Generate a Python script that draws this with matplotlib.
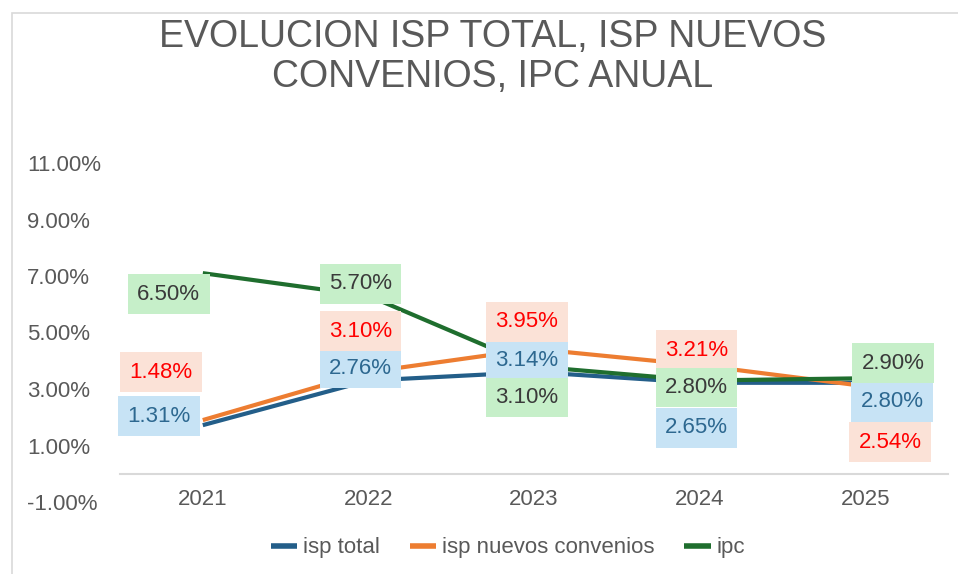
import matplotlib.pyplot as plt
from matplotlib.patches import Rectangle

plt.rcParams["font.family"] = ["Liberation Sans", "DejaVu Sans"]

# data
years = ["2021", "2022", "2023", "2024", "2025"]
isp_total = [1.72, 3.30, 3.60, 3.22, 3.22]
isp_nuevos = [1.90, 3.60, 4.42, 3.84, 3.10]
ipc = [7.10, 6.30, 3.80, 3.30, 3.38]

# data label texts as shown in the chart
isp_total_labels = ["1.31%", "2.76%", "3.14%", "2.65%", "2.80%"]
isp_nuevos_labels = ["1.48%", "3.10%", "3.95%", "3.21%", "2.54%"]
ipc_labels = ["6.50%", "5.70%", "3.10%", "2.80%", "2.90%"]

y_ticks = [-1, 1, 3, 5, 7, 9, 11]

# label offsets from their point, in pixels (x right, y up)
off_total = [(-44, 9), (-8, 12), (-7, 12), (-3, -45), (27, -19)]
off_nuevos = [(-42, 48), (-8, 41), (-7, 27), (-3, 15), (25, -56)]
off_ipc = [(-34, -21), (-8, 12), (-7, -31), (-3, -7), (28, 15)]

W, H = 958, 574
fig = plt.figure(figsize=(W / 100, H / 100), dpi=100)
ax = fig.add_axes([120 / W, 1 - 502 / H, 828 / W, 339 / H])

# chart border (only left and top edges visible)
fig.patches.append(Rectangle((12 / W, -0.1), 1.2, 1 - 13 / H + 0.1,
                             transform=fig.transFigure, fill=False,
                             edgecolor="#D9D9D9", lw=1.2))

x = list(range(len(years)))
series = [
    ("isp total", isp_total, isp_total_labels, off_total, "#235E89", "#C7E3F5", "#2D6890"),
    ("isp nuevos convenios", isp_nuevos, isp_nuevos_labels, off_nuevos, "#ED7D31", "#FBE2D7", "#FF0000"),
    ("ipc", ipc, ipc_labels, off_ipc, "#1F6E2E", "#C6EFC9", "#3A3A3A"),
]

for name, vals, labs, offs, col, box, tcol in series:
    ax.plot(x, vals, color=col, lw=3, label=name, solid_capstyle="butt", zorder=2)
    for xi, v, lab, (dx, dy) in zip(x, vals, labs, offs):
        ax.annotate(lab, (xi, v), xytext=(dx, dy), textcoords="offset pixels",
                    ha="center", va="center", fontsize=16, color=tcol,
                    bbox=dict(boxstyle="square,pad=0.42", fc=box, ec="none"),
                    zorder=4)

ax.set_xlim(-0.5, len(years) - 0.5)
ax.set_ylim(-1, 11)
ax.set_xticks(x)
ax.set_xticklabels(years)
ax.set_yticks(y_ticks)
ax.set_yticklabels([f"{t:.2f}%" for t in y_ticks])

for s in ["top", "right", "left"]:
    ax.spines[s].set_visible(False)
ax.spines["bottom"].set_position(("data", 0))
ax.spines["bottom"].set_color("#D9D9D9")
ax.spines["bottom"].set_linewidth(1.5)

ax.tick_params(axis="x", length=0, pad=11, labelsize=16, labelcolor="#595959")
ax.tick_params(axis="y", length=0, pad=67, labelsize=16, labelcolor="#595959")
for t in ax.get_yticklabels():
    t.set_horizontalalignment("left")

fig.text(493 / W, 1 - 57 / H, "EVOLUCION ISP TOTAL, ISP NUEVOS\nCONVENIOS, IPC ANUAL",
         ha="center", va="center", fontsize=27, color="#595959", linespacing=1.15)

fig.legend(loc="center", bbox_to_anchor=(508 / W, 1 - 548 / H), ncol=3,
           frameon=False, fontsize=16, labelcolor="#595959",
           handlelength=1.2, handletextpad=0.25, columnspacing=1.35)
for line in fig.legends[0].get_lines():
    line.set_linewidth(4)

fig.savefig("out.png", dpi=100)
